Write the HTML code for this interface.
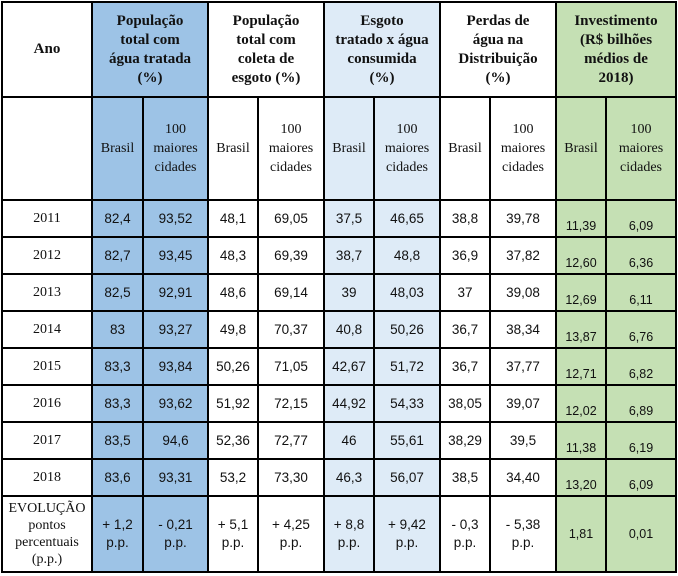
<!DOCTYPE html>
<html><head><meta charset="utf-8"><style>
html,body{margin:0;padding:0;background:#fff;width:678px;height:576px;overflow:hidden}
table{position:absolute;left:1px;top:1px;border-collapse:collapse;table-layout:fixed;font-family:"Liberation Sans",sans-serif;font-size:13.5px;color:#111}
td{border:2px solid #000;padding:0;text-align:center;vertical-align:middle;line-height:18px;overflow:hidden}
.h{font-family:"Liberation Serif",serif;font-weight:bold;font-size:15px;line-height:19px}
.y{font-family:"Liberation Serif",serif;font-size:14px}
.s{font-family:"Liberation Serif",serif;font-size:14px;line-height:19px}
.d{background:#9dc3e6}.l{background:#deebf7}.g{background:#c5e0b4}
.gb{background:#c5e0b4;vertical-align:bottom;font-size:12.5px}
tr.r td{line-height:14px;height:auto;padding:0}
tr.r td.gb{padding-bottom:3px}
tr.r{height:37px}
</style></head><body>
<table>
<colgroup><col style="width:90px"><col style="width:51px"><col style="width:65px"><col style="width:50px"><col style="width:66px"><col style="width:50px"><col style="width:66px"><col style="width:50px"><col style="width:66px"><col style="width:50px"><col style="width:70px"></colgroup>
<tr style="height:95px"><td class="h">Ano</td><td colspan="2" class="h d">População<br>total com<br>água tratada<br>(%)</td><td colspan="2" class="h">População<br>total com<br>coleta de<br>esgoto (%)</td><td colspan="2" class="h l">Esgoto<br>tratado x água<br>consumida<br>(%)</td><td colspan="2" class="h">Perdas de<br>água na<br>Distribuição<br>(%)</td><td colspan="2" class="h g">Investimento<br>(R$ bilhões<br>médios de<br>2018)</td></tr>
<tr style="height:103px"><td></td><td class="s d">Brasil</td><td class="s d">100<br>maiores<br>cidades</td><td class="s">Brasil</td><td class="s">100<br>maiores<br>cidades</td><td class="s l">Brasil</td><td class="s l">100<br>maiores<br>cidades</td><td class="s">Brasil</td><td class="s">100<br>maiores<br>cidades</td><td class="s g">Brasil</td><td class="s g">100<br>maiores<br>cidades</td></tr>
<tr class="r"><td class="y">2011</td><td class="d">82,4</td><td class="d">93,52</td><td>48,1</td><td>69,05</td><td class="l">37,5</td><td class="l">46,65</td><td>38,8</td><td>39,78</td><td class="gb">11,39</td><td class="gb">6,09</td></tr>
<tr class="r"><td class="y">2012</td><td class="d">82,7</td><td class="d">93,45</td><td>48,3</td><td>69,39</td><td class="l">38,7</td><td class="l">48,8</td><td>36,9</td><td>37,82</td><td class="gb">12,60</td><td class="gb">6,36</td></tr>
<tr class="r"><td class="y">2013</td><td class="d">82,5</td><td class="d">92,91</td><td>48,6</td><td>69,14</td><td class="l">39</td><td class="l">48,03</td><td>37</td><td>39,08</td><td class="gb">12,69</td><td class="gb">6,11</td></tr>
<tr class="r"><td class="y">2014</td><td class="d">83</td><td class="d">93,27</td><td>49,8</td><td>70,37</td><td class="l">40,8</td><td class="l">50,26</td><td>36,7</td><td>38,34</td><td class="gb">13,87</td><td class="gb">6,76</td></tr>
<tr class="r"><td class="y">2015</td><td class="d">83,3</td><td class="d">93,84</td><td>50,26</td><td>71,05</td><td class="l">42,67</td><td class="l">51,72</td><td>36,7</td><td>37,77</td><td class="gb">12,71</td><td class="gb">6,82</td></tr>
<tr class="r"><td class="y">2016</td><td class="d">83,3</td><td class="d">93,62</td><td>51,92</td><td>72,15</td><td class="l">44,92</td><td class="l">54,33</td><td>38,05</td><td>39,07</td><td class="gb">12,02</td><td class="gb">6,89</td></tr>
<tr class="r"><td class="y">2017</td><td class="d">83,5</td><td class="d">94,6</td><td>52,36</td><td>72,77</td><td class="l">46</td><td class="l">55,61</td><td>38,29</td><td>39,5</td><td class="gb">11,38</td><td class="gb">6,19</td></tr>
<tr class="r"><td class="y">2018</td><td class="d">83,6</td><td class="d">93,31</td><td>53,2</td><td>73,30</td><td class="l">46,3</td><td class="l">56,07</td><td>38,5</td><td>34,40</td><td class="gb">13,20</td><td class="gb">6,09</td></tr>
<tr style="height:76px"><td class="s" style="line-height:17px">EVOLUÇÃO<br>pontos<br>percentuais<br>(p.p.)</td><td class="d">+ 1,2<br>p.p.</td><td class="d">- 0,21<br>p.p.</td><td>+ 5,1<br>p.p.</td><td>+ 4,25<br>p.p.</td><td class="l">+ 8,8<br>p.p.</td><td class="l">+ 9,42<br>p.p.</td><td>- 0,3<br>p.p.</td><td>- 5,38<br>p.p.</td><td class="g" style="font-size:12.5px">1,81</td><td class="g" style="font-size:12.5px">0,01</td></tr>
</table>
</body></html>
